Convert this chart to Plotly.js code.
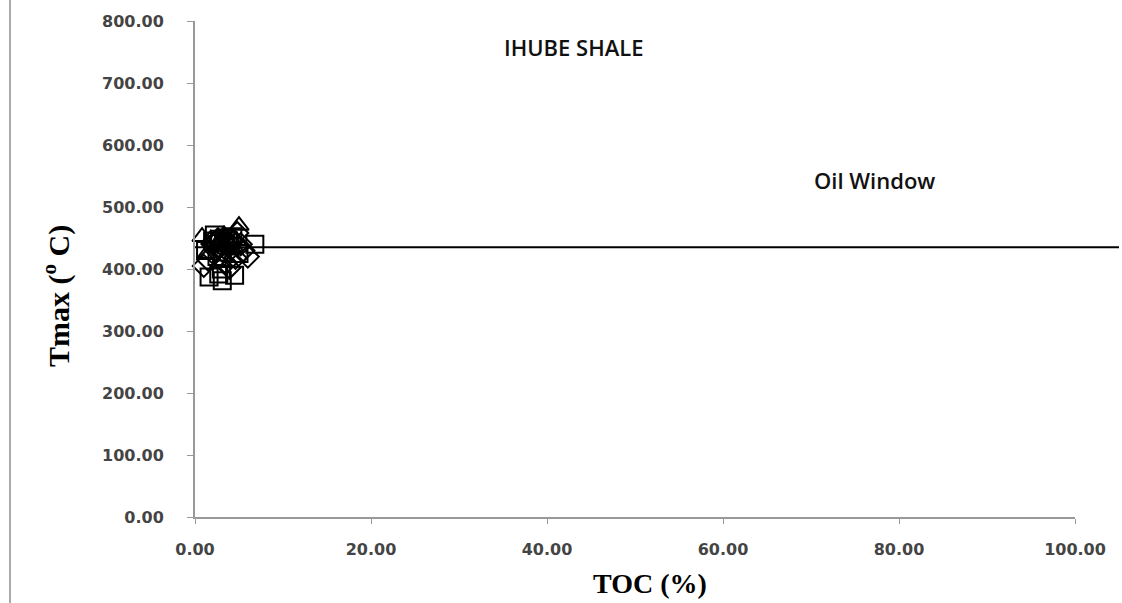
<!DOCTYPE html>
<html>
<head>
<meta charset="utf-8">
<script src="https://cdn.plot.ly/plotly-3.0.1.min.js"></script>
<style>html,body{margin:0;padding:0;background:#fff;}#chart{width:1122px;height:603px;}</style>
</head>
<body>
<div id="chart"></div>
<script>
const oilWindowTmax = 435;

const squareTOC  = [6.8, 3.1, 1.6, 4.5, 2.0, 3.5, 2.5, 4.0, 1.2, 3.0, 5.0, 2.2, 3.8, 2.7, 3.3, 4.3, 2.8];
const squareTmax = [440, 381, 387, 390, 445, 450, 420, 437, 430, 400, 425, 455, 445, 392, 442, 452, 448];

const diamondTOC  = [4.8, 1.5, 2.8, 3.5, 5.5, 6.0, 2.0, 4.2, 1.0, 3.2, 4.6, 2.6, 3.9, 3.6, 2.4, 4.1, 5.2];
const diamondTmax = [458, 415, 435, 410, 430, 420, 440, 445, 405, 428, 418, 448, 402, 440, 430, 432, 440];

const triangleTOC  = [5.0, 0.8, 1.8, 3.0, 4.0, 2.4, 3.6, 1.4, 4.4, 2.9, 3.3, 3.1, 2.2, 4.7];
const triangleTmax = [470, 452, 448, 445, 440, 438, 432, 425, 450, 410, 455, 438, 444, 446];

const xTicks = [0, 20, 40, 60, 80, 100];
const yTicks = [0, 100, 200, 300, 400, 500, 600, 700, 800];

function series(x, y, sym) {
  return {x: x, y: y, type: 'scatter', mode: 'markers', showlegend: false, cliponaxis: false,
    marker: {symbol: sym, size: 17, color: 'rgba(0,0,0,0)', line: {color: '#000', width: 2}}};
}

const data = [
  series(squareTOC, squareTmax, 'square'),
  series(diamondTOC, diamondTmax, 'diamond'),
  series(triangleTOC, triangleTmax, 'triangle-up')
];

const tickFont = {family: 'DejaVu Sans', size: 16, color: '#444', weight: 'bold'};
function px2x(p) { return (p - 195) / 880; }
function px2y(p) { return (517 - p) / 496; }

const layout = {
  width: 1122, height: 603,
  margin: {l: 195, r: 47, t: 21, b: 86},
  paper_bgcolor: '#fff', plot_bgcolor: '#fff',
  showlegend: false,
  xaxis: {range: [0, 100], tickvals: xTicks, tickformat: '.2f', showgrid: false, zeroline: false,
    showline: true, linecolor: '#999', linewidth: 2, ticks: 'outside', ticklen: 5, tickcolor: '#999',
    tickfont: tickFont, ticklabelstandoff: 12},
  yaxis: {range: [0, 800], tickvals: yTicks, tickformat: '.2f', showgrid: false, zeroline: false,
    showline: true, linecolor: '#999', linewidth: 2, ticks: 'outside', ticklen: 6, tickcolor: '#999',
    tickfont: tickFont, ticklabelstandoff: 20},
  shapes: [
    {type: 'line', xref: 'paper', yref: 'y', x0: 0, x1: 1.05, y0: oilWindowTmax, y1: oilWindowTmax,
     line: {color: '#000', width: 2}},
    {type: 'line', xref: 'paper', yref: 'paper', x0: px2x(10), x1: px2x(10), y0: px2y(603), y1: px2y(0),
     line: {color: '#aaa', width: 2}}
  ],
  annotations: [
    {text: 'Tmax (<sup>o</sup> C)', xref: 'paper', yref: 'paper', x: px2x(56), y: px2y(296),
     xanchor: 'center', yanchor: 'middle', textangle: -90, showarrow: false,
     font: {family: 'Liberation Serif', size: 30, color: '#000', weight: 'bold'}},
    {text: 'TOC (%)', xref: 'paper', yref: 'paper', x: px2x(650), y: px2y(583),
     xanchor: 'center', yanchor: 'middle', showarrow: false,
     font: {family: 'Liberation Serif', size: 28, color: '#000', weight: 'bold'}},
    {text: 'IHUBE SHALE', xref: 'paper', yref: 'paper', x: px2x(574), y: px2y(47),
     xanchor: 'center', yanchor: 'middle', showarrow: false,
     font: {family: 'Open Sans', size: 22, color: '#111', weight: 600}},
    {text: 'Oil Window', xref: 'paper', yref: 'paper', x: px2x(874), y: px2y(180),
     xanchor: 'center', yanchor: 'middle', showarrow: false,
     font: {family: 'Open Sans', size: 22, color: '#111', weight: 600}}
  ]
};

Plotly.newPlot('chart', data, layout, {displayModeBar: false});
</script>
</body>
</html>
